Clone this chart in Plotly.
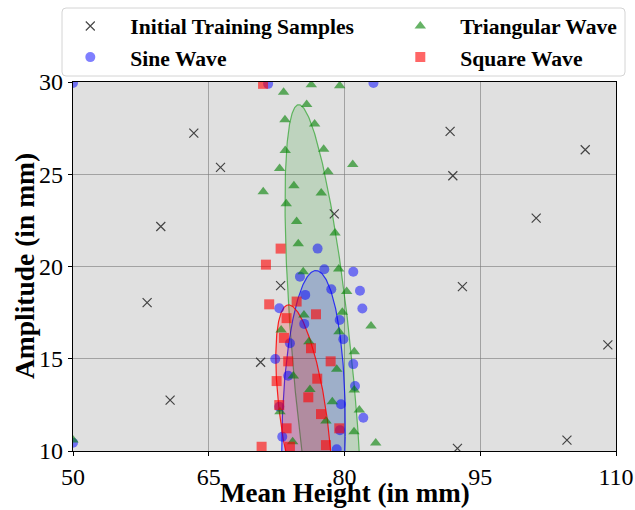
import numpy as np
import plotly.graph_objects as go

# ---------------- data ----------------
init_x = [63.35, 66.3, 59.7, 58.19, 60.73, 91.67, 91.97, 106.6, 101.18, 93.03, 109.1, 104.58, 92.48, 78.87, 72.94, 70.73]
init_y = [27.23, 25.37, 22.17, 18.04, 12.76, 27.32, 24.92, 26.33, 22.62, 18.91, 15.75, 10.59, 10.14, 22.85, 18.96, 14.81]

sine_x = [50.0, 50.0, 71.56, 83.2, 77.03, 77.77, 75.08, 80.97, 78.54, 81.71, 75.66, 72.79, 81.97, 79.47, 75.55,
          79.87, 73.97, 72.35, 80.97, 73.78, 72.79, 73.12, 81.16, 79.61, 82.08, 79.5, 79.14]
sine_y = [29.95, 10.45, 29.9, 29.95, 20.97, 19.85, 19.45, 19.72, 18.77, 18.69, 18.46, 17.74, 17.72, 17.1, 16.89,
          16.06, 15.84, 14.99, 14.71, 14.08, 12.4, 10.77, 13.52, 12.53, 11.8, 11.13, 10.09]

tri_x = [76.33, 79.47, 73.27, 75.82, 73.42, 76.7, 73.45, 77.7, 72.83, 80.91, 78.17, 74.41, 71.02, 77.43, 73.56,
         74.71, 78.95, 74.89, 75.44, 79.36, 80.24, 79.76, 82.93, 75.52, 73.0, 79.39, 76.07, 81.08, 79.14, 74.34,
         81.08, 76.18, 78.65, 77.95, 81.64, 81.05, 83.45, 74.27, 72.87, 50.0]
tri_y = [29.85, 29.8, 29.44, 28.78, 27.95, 27.72, 26.29, 26.36, 25.31, 25.53, 25.13, 24.37, 24.05, 23.98, 23.4,
         22.44, 21.81, 21.23, 19.72, 19.87, 18.64, 17.52, 16.78, 17.37, 16.56, 16.47, 15.92, 15.38, 14.43, 14.06,
         13.3, 13.34, 12.67, 11.62, 12.22, 11.04, 10.44, 10.5, 12.13, 10.6]

sq_x = [71.0, 72.94, 71.32, 71.68, 74.71, 73.6, 76.85, 73.31, 76.3, 73.78, 78.47, 72.5, 76.99, 76.0, 72.79,
        77.4, 73.6, 79.42, 77.95, 70.84, 73.97]
sq_y = [29.9, 20.97, 20.1, 17.95, 18.1, 17.2, 17.41, 16.13, 15.57, 14.86, 14.86, 13.79, 13.92, 12.91, 12.49,
        12.0, 11.23, 11.23, 10.32, 10.23, 10.23]

# ellipse (mean, covariance-like shape) per wave type: triangular, sine, square
ell_names = ["Triangular Wave", "Sine Wave", "Square Wave"]
ell_cx = [77.75, 76.58, 75.5]
ell_cy = [13.77, 10.78, 11.72]
ell_sxx = [18.69, 12.32, 9.56]
ell_sxy = [-42.1, 2.43, -10.38]
ell_syy = [225.0, 81.0, 38.44]

x_ticks = [50, 65, 80, 95, 110]
y_ticks = [10, 15, 20, 25, 30]
x_title = "Mean Height (in mm)"
y_title = "Amplitude (in mm)"

# ---------------- styles ----------------
FONT = "Liberation Serif, Times New Roman, serif"
W, H = 635, 510
ML, MR, MT, MB = 73, 19, 82, 59
PW, PH = W - ML - MR, H - MT - MB


def px_x(p):
    return (p - ML) / PW


def px_y(p):
    return (H - MB - p) / PH


ell_line = ["rgba(0,150,0,0.55)", "rgba(0,0,255,0.75)", "rgba(255,0,0,0.85)"]
ell_fill = ["rgba(0,140,0,0.15)", "rgba(0,0,255,0.17)", "rgba(255,0,0,0.2)"]

fig = go.Figure()

t = np.linspace(0, 2 * np.pi, 400)
for i in range(3):
    a = np.sqrt(ell_sxx[i] - ell_sxy[i] ** 2 / ell_syy[i])
    b = ell_sxy[i] / np.sqrt(ell_syy[i])
    c = np.sqrt(ell_syy[i])
    ex = ell_cx[i] + a * np.cos(t) + b * np.sin(t)
    ey = ell_cy[i] + c * np.sin(t)
    fig.add_trace(go.Scatter(x=ex, y=ey, mode="lines", fill="toself",
                             fillcolor=ell_fill[i], line=dict(color=ell_line[i], width=1.2),
                             showlegend=False, hoverinfo="skip"))

fig.add_trace(go.Scatter(x=init_x, y=init_y, mode="markers", name="<b>Initial Training Samples</b>",
                         marker=dict(symbol="x-thin", size=9, line=dict(color="rgba(40,40,40,0.85)", width=1.2)),
                         legend="legend", legendrank=1))
fig.add_trace(go.Scatter(x=sine_x, y=sine_y, mode="markers", name="<b>Sine Wave</b>",
                         marker=dict(symbol="circle", size=10, color="rgba(0,0,255,0.5)", line=dict(width=0)),
                         legend="legend", legendrank=2))
fig.add_trace(go.Scatter(x=tri_x, y=tri_y, mode="markers", name="<b>Triangular Wave</b>",
                         marker=dict(symbol="triangle-up", size=10, color="rgba(0,128,0,0.6)", line=dict(width=0)),
                         legend="legend2", legendrank=1))
fig.add_trace(go.Scatter(x=sq_x, y=sq_y, mode="markers", name="<b>Square Wave</b>",
                         marker=dict(symbol="square", size=10, color="rgba(255,0,0,0.6)", line=dict(width=0)),
                         legend="legend2", legendrank=2))

axis_common = dict(showline=True, linecolor="black", linewidth=1.3, mirror=True,
                   ticks="outside", ticklen=4, tickcolor="black",
                   showgrid=True, gridcolor="rgba(120,120,120,0.6)", gridwidth=1,
                   zeroline=False, automargin=False,
                   tickfont=dict(family=FONT, size=24, color="black"))

fig.update_xaxes(range=[50, 110], tickvals=x_ticks, ticktext=[str(v) for v in x_ticks], **axis_common)
fig.update_yaxes(range=[10, 30], tickvals=y_ticks, ticktext=[str(v) for v in y_ticks], **axis_common)

# axis titles
fig.add_annotation(text=f"<b>{x_title}</b>", xref="paper", yref="paper", x=0.5, y=px_y(492.5),
                   xanchor="center", yanchor="middle", showarrow=False, borderpad=0,
                   font=dict(family=FONT, size=27, color="black"))
fig.add_annotation(text=f"<b>{y_title}</b>", xref="paper", yref="paper", x=px_x(24.5), y=0.5,
                   xanchor="center", yanchor="middle", showarrow=False, textangle=-90, borderpad=0,
                   font=dict(family=FONT, size=27.5, color="black"))

# legend frame (rounded)
x0, x1, y0, y1 = px_x(62), px_x(625), px_y(76), px_y(8)
rx, ry = 4 / PW, 4 / PH
path = (f"M {x0+rx},{y0} L {x1-rx},{y0} Q {x1},{y0} {x1},{y0+ry} L {x1},{y1-ry} Q {x1},{y1} {x1-rx},{y1} "
        f"L {x0+rx},{y1} Q {x0},{y1} {x0},{y1-ry} L {x0},{y0+ry} Q {x0},{y0} {x0+rx},{y0} Z")
fig.add_shape(type="path", path=path, xref="paper", yref="paper",
              line=dict(color="#d4d4d4", width=1), fillcolor="white", layer="above")

leg_common = dict(orientation="v", yanchor="top", xanchor="left", itemwidth=70,
                  font=dict(family=FONT, size=21.6, color="black"),
                  bgcolor="rgba(0,0,0,0)", borderwidth=0, tracegroupgap=0)

fig.update_layout(
    width=W, height=H,
    margin=dict(l=ML, r=MR, t=MT, b=MB, autoexpand=False),
    plot_bgcolor="#e0e0e0", paper_bgcolor="white",
    legend=dict(x=px_x(50.3), y=px_y(5.5), **leg_common),
    legend2=dict(x=px_x(380.3), y=px_y(5.5), **leg_common),
)

fig.write_html("out.html", config={"displayModeBar": False},
               post_script="document.body.style.margin='0';document.body.style.overflow='hidden';")
